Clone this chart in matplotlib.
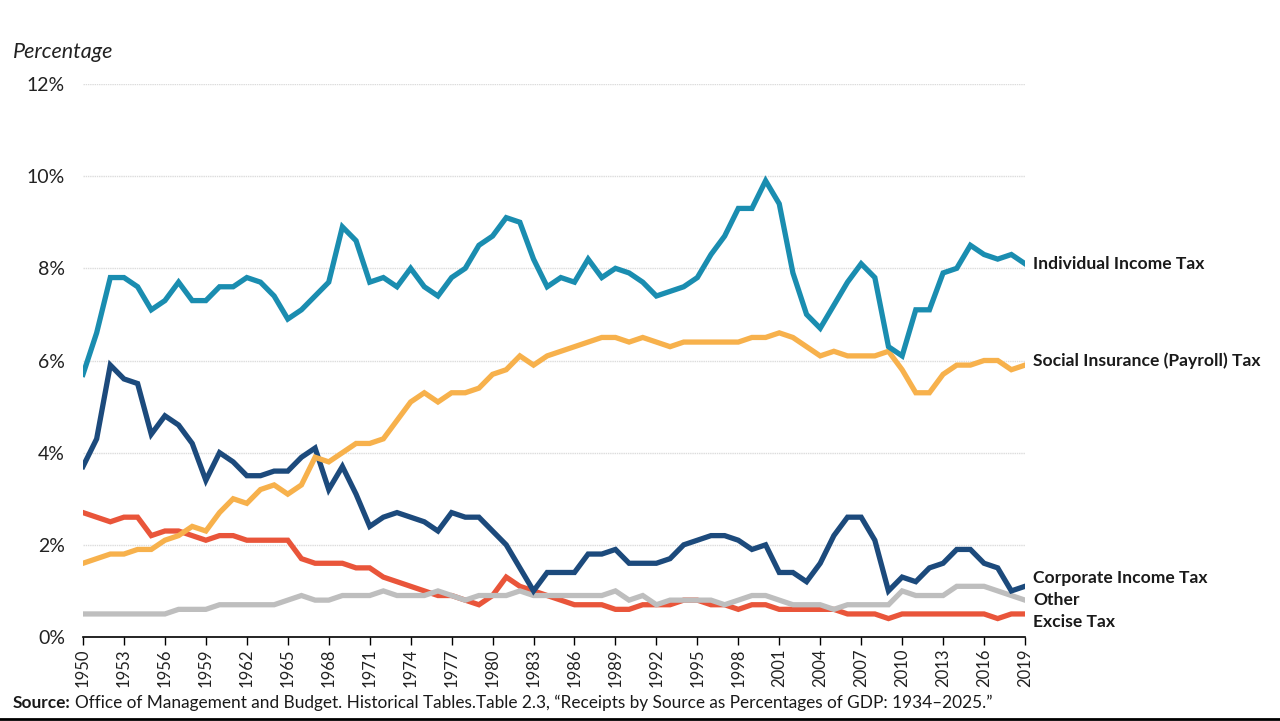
import matplotlib
matplotlib.use("Agg")
import matplotlib.pyplot as plt
from matplotlib.lines import Line2D

years = list(range(1950, 2020))

individual = [5.7, 6.6, 7.8, 7.8, 7.6, 7.1, 7.3, 7.7, 7.3, 7.3,
              7.6, 7.6, 7.8, 7.7, 7.4, 6.9, 7.1, 7.4, 7.7, 8.9,
              8.6, 7.7, 7.8, 7.6, 8.0, 7.6, 7.4, 7.8, 8.0, 8.5,
              8.7, 9.1, 9.0, 8.2, 7.6, 7.8, 7.7, 8.2, 7.8, 8.0,
              7.9, 7.7, 7.4, 7.5, 7.6, 7.8, 8.3, 8.7, 9.3, 9.3,
              9.9, 9.4, 7.9, 7.0, 6.7, 7.2, 7.7, 8.1, 7.8, 6.3,
              6.1, 7.1, 7.1, 7.9, 8.0, 8.5, 8.3, 8.2, 8.3, 8.1]

payroll = [1.6, 1.7, 1.8, 1.8, 1.9, 1.9, 2.1, 2.2, 2.4, 2.3,
           2.7, 3.0, 2.9, 3.2, 3.3, 3.1, 3.3, 3.9, 3.8, 4.0,
           4.2, 4.2, 4.3, 4.7, 5.1, 5.3, 5.1, 5.3, 5.3, 5.4,
           5.7, 5.8, 6.1, 5.9, 6.1, 6.2, 6.3, 6.4, 6.5, 6.5,
           6.4, 6.5, 6.4, 6.3, 6.4, 6.4, 6.4, 6.4, 6.4, 6.5,
           6.5, 6.6, 6.5, 6.3, 6.1, 6.2, 6.1, 6.1, 6.1, 6.2,
           5.8, 5.3, 5.3, 5.7, 5.9, 5.9, 6.0, 6.0, 5.8, 5.9]

corporate = [3.7, 4.3, 5.9, 5.6, 5.5, 4.4, 4.8, 4.6, 4.2, 3.4,
             4.0, 3.8, 3.5, 3.5, 3.6, 3.6, 3.9, 4.1, 3.2, 3.7,
             3.1, 2.4, 2.6, 2.7, 2.6, 2.5, 2.3, 2.7, 2.6, 2.6,
             2.3, 2.0, 1.5, 1.0, 1.4, 1.4, 1.4, 1.8, 1.8, 1.9,
             1.6, 1.6, 1.6, 1.7, 2.0, 2.1, 2.2, 2.2, 2.1, 1.9,
             2.0, 1.4, 1.4, 1.2, 1.6, 2.2, 2.6, 2.6, 2.1, 1.0,
             1.3, 1.2, 1.5, 1.6, 1.9, 1.9, 1.6, 1.5, 1.0, 1.1]

excise = [2.7, 2.6, 2.5, 2.6, 2.6, 2.2, 2.3, 2.3, 2.2, 2.1,
          2.2, 2.2, 2.1, 2.1, 2.1, 2.1, 1.7, 1.6, 1.6, 1.6,
          1.5, 1.5, 1.3, 1.2, 1.1, 1.0, 0.9, 0.9, 0.8, 0.7,
          0.9, 1.3, 1.1, 1.0, 0.9, 0.8, 0.7, 0.7, 0.7, 0.6,
          0.6, 0.7, 0.7, 0.7, 0.8, 0.8, 0.7, 0.7, 0.6, 0.7,
          0.7, 0.6, 0.6, 0.6, 0.6, 0.6, 0.5, 0.5, 0.5, 0.4,
          0.5, 0.5, 0.5, 0.5, 0.5, 0.5, 0.5, 0.4, 0.5, 0.5]

other = [0.5, 0.5, 0.5, 0.5, 0.5, 0.5, 0.5, 0.6, 0.6, 0.6,
         0.7, 0.7, 0.7, 0.7, 0.7, 0.8, 0.9, 0.8, 0.8, 0.9,
         0.9, 0.9, 1.0, 0.9, 0.9, 0.9, 1.0, 0.9, 0.8, 0.9,
         0.9, 0.9, 1.0, 0.9, 0.9, 0.9, 0.9, 0.9, 0.9, 1.0,
         0.8, 0.9, 0.7, 0.8, 0.8, 0.8, 0.8, 0.7, 0.8, 0.9,
         0.9, 0.8, 0.7, 0.7, 0.7, 0.6, 0.7, 0.7, 0.7, 0.7,
         1.0, 0.9, 0.9, 0.9, 1.1, 1.1, 1.1, 1.0, 0.9, 0.8]

labels = ["Individual Income Tax", "Social Insurance (Payroll) Tax",
          "Corporate Income Tax", "Other", "Excise Tax"]
label_y = [8.1, 6.0, 1.28, 0.8, 0.32]

c_ind = "#1A8DB0"
c_pay = "#F7B14C"
c_corp = "#1C4A7C"
c_exc = "#E9553A"
c_oth = "#BEBEBE"

plt.rcParams['font.family'] = ['Lato', 'DejaVu Sans']

fig = plt.figure(figsize=(12.8, 7.21), dpi=100)
ax = fig.add_axes([83/1280, 1 - 637/721, (1025 - 83)/1280, (637 - 84)/721])

lw = 3.8
ax.plot(years, excise, color=c_exc, lw=lw, solid_joinstyle='miter', zorder=3)
ax.plot(years, other, color=c_oth, lw=lw, solid_joinstyle='miter', zorder=4)
ax.plot(years, corporate, color=c_corp, lw=lw, solid_joinstyle='miter', zorder=5)
ax.plot(years, payroll, color=c_pay, lw=lw, solid_joinstyle='miter', zorder=6)
ax.plot(years, individual, color=c_ind, lw=lw, solid_joinstyle='miter', zorder=7)

ax.set_xlim(1950, 2019)
ax.set_ylim(0, 12)
ax.set_yticks(range(0, 13, 2))
ax.set_yticklabels([f"{v}%" for v in range(0, 13, 2)], fontsize=14, color="#222222")
ax.tick_params(axis='y', length=0, pad=13)
xt = list(range(1950, 2020, 3))
ax.set_xticks(xt)
ax.set_xticklabels([str(y) for y in xt], rotation=90, fontsize=12, color="#222222")
ax.tick_params(axis='x', direction='out', length=6, width=1, color='black', pad=2)

for s in ['top', 'right', 'left']:
    ax.spines[s].set_visible(False)
ax.spines['bottom'].set_color('black')
ax.spines['bottom'].set_linewidth(1.2)
ax.spines['bottom'].set_zorder(10)

ax.yaxis.grid(True, color="#DCDCDC", lw=1, ls=(0, (1, 0.6)))
ax.set_axisbelow(True)

for lab, yv in zip(labels, label_y):
    ax.annotate(lab, xy=(1.0, yv), xycoords=('axes fraction', 'data'),
                xytext=(6, 0), textcoords='offset points',
                ha='left', va='center', fontsize=12.6, fontweight='bold',
                color="#1a1a1a", annotation_clip=False)

fig.text(13/1280, 1 - 52/721, "Percentage", fontsize=15.5, style='italic',
         ha='left', va='center', color="#222222")

src_bold = fig.text(13/1280, 1 - 703/721, "Source:", fontsize=12.4, fontweight='bold',
                    ha='left', va='center', color="#1a1a1a")
renderer = fig.canvas.get_renderer()
bb = src_bold.get_window_extent(renderer=renderer)
x_next = (bb.x1 + 4) / fig.bbox.width
fig.text(x_next, 1 - 703/721,
         "Office of Management and Budget. Historical Tables.Table 2.3, \u201cReceipts by Source as Percentages of GDP: 1934\u20132025.\u201d",
         fontsize=12.4, ha='left', va='center', color="#1a1a1a")

fig.add_artist(Line2D([0, 1], [1 - 719/721, 1 - 719/721], color='black', lw=2,
                      transform=fig.transFigure))

fig.savefig("out.png", dpi=100)
